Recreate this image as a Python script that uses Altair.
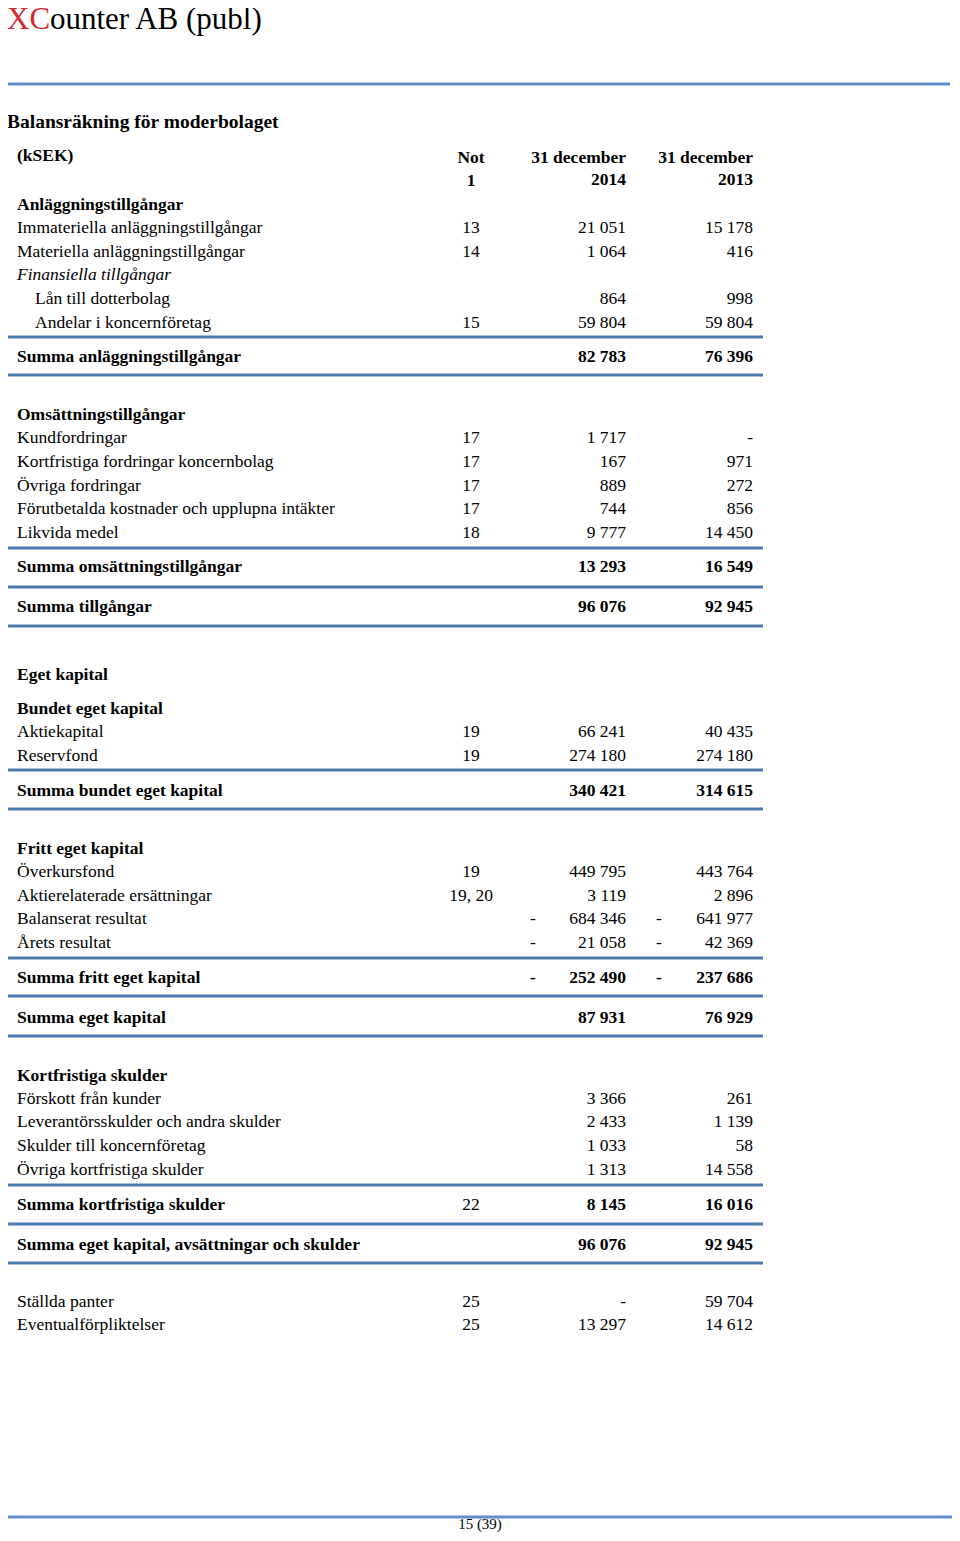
import altair as alt
import pandas as pd

# ---------------- data ----------------
COMPANY_RED = "XC"
COMPANY_REST = "ounter AB (publ)"
SHEET_TITLE = "Balansräkning för moderbolaget"
UNIT_LABEL = "(kSEK)"
COL_NOTE = ["Not", "1"]
COL_2014 = ["31 december", "2014"]
COL_2013 = ["31 december", "2013"]
PAGE_LABEL = "15 (39)"

LABELS = [
    "Anläggningstillgångar",
    "Immateriella anläggningstillgångar",
    "Materiella anläggningstillgångar",
    "Finansiella tillgångar",
    "Lån till dotterbolag",
    "Andelar i koncernföretag",
    "Summa anläggningstillgångar",
    "Omsättningstillgångar",
    "Kundfordringar",
    "Kortfristiga fordringar koncernbolag",
    "Övriga fordringar",
    "Förutbetalda kostnader och upplupna intäkter",
    "Likvida medel",
    "Summa omsättningstillgångar",
    "Summa tillgångar",
    "Eget kapital",
    "Bundet eget kapital",
    "Aktiekapital",
    "Reservfond",
    "Summa bundet eget kapital",
    "Fritt eget kapital",
    "Överkursfond",
    "Aktierelaterade ersättningar",
    "Balanserat resultat",
    "Årets resultat",
    "Summa fritt eget kapital",
    "Summa eget kapital",
    "Kortfristiga skulder",
    "Förskott från kunder",
    "Leverantörsskulder och andra skulder",
    "Skulder till koncernföretag",
    "Övriga kortfristiga skulder",
    "Summa kortfristiga skulder",
    "Summa eget kapital, avsättningar och skulder",
    "Ställda panter",
    "Eventualförpliktelser",
]
NOTES = ["", "13", "14", "", "", "15", "", "", "17", "17", "17", "17", "18", "", "",
         "", "", "19", "19", "", "", "19", "19, 20", "", "", "", "", "", "", "", "", "",
         "22", "", "25", "25"]
V2014 = [None, 21051, 1064, None, 864, 59804, 82783, None, 1717, 167, 889, 744, 9777,
         13293, 96076, None, None, 66241, 274180, 340421, None, 449795, 3119, -684346,
         -21058, -252490, 87931, None, 3366, 2433, 1033, 1313, 8145, 96076, None, 13297]
V2013 = [None, 15178, 416, None, 998, 59804, 76396, None, None, 971, 272, 856, 14450,
         16549, 92945, None, None, 40435, 274180, 314615, None, 443764, 2896, -641977,
         -42369, -237686, 76929, None, 261, 1139, 58, 14558, 16016, 92945, 59704, 14612]
KINDS = ["head", "item", "item", "ital", "indent", "indent", "sum", "head", "item", "item",
         "item", "item", "item", "sum", "sum", "head", "head", "item", "item", "sum", "head",
         "item", "item", "item", "item", "sum", "sum", "head", "item", "item", "item", "item",
         "sum", "sum", "item", "item"]

# ---------------- layout (page pixels) ----------------
ROW_Y = [204, 227, 251, 274, 298, 322, 356, 414, 437, 461, 485, 508, 532, 566, 606,
         674, 708, 731, 755, 790, 848, 871, 895, 918, 942, 977, 1017, 1075, 1098, 1121,
         1145, 1169, 1204, 1244, 1301, 1324]
RULE_Y = [337, 375, 548, 587, 626, 770, 809, 958, 996, 1036, 1185, 1224, 1263]
W, H = 944, 1525
FONT = "Liberation Serif"
RED = "#d7262e"
BLUE_TOP = "#5e8fca"
BLUE_TAB = "#4d7aad"
X_LABEL, X_INDENT, X_TITLE = 17, 35, 7
X_NOTE, X_C14, X_C13 = 471, 626, 753
X_M14, X_M13 = 533, 659
BASE = 6  # baseline offset from visual row centre
SIZE = 17.5

xs = alt.Scale(domain=[8, 8 + W], nice=False, zero=False)
ys = alt.Scale(domain=[8, 8 + H], nice=False, zero=False, reverse=True)


def fmt(v):
    return f"{abs(v):,}".replace(",", " ")


texts = []


def add(x, y, t, align="left", weight="normal", style="normal", size=SIZE, color="black"):
    texts.append(dict(x=x, y=y, text=t, align=align, weight=weight, style=style,
                      size=size, color=color))


# page heading
add(X_TITLE, 29, COMPANY_RED, size=31, color=RED)
add(X_TITLE + 43, 29, COMPANY_REST, size=31)
add(X_TITLE, 128, SHEET_TITLE, weight="bold", size=19.5)
add(X_LABEL, 161, UNIT_LABEL, weight="bold")
add(X_NOTE, 163, COL_NOTE[0], align="center", weight="bold")
add(X_NOTE, 186, COL_NOTE[1], align="center", weight="bold")
add(X_C14, 163, COL_2014[0], align="right", weight="bold")
add(X_C14, 185, COL_2014[1], align="right", weight="bold")
add(X_C13, 163, COL_2013[0], align="right", weight="bold")
add(X_C13, 185, COL_2013[1], align="right", weight="bold")
add(480, 1529, PAGE_LABEL, align="center", size=15)

for lab, note, a, b, kind, yc in zip(LABELS, NOTES, V2014, V2013, KINDS, ROW_Y):
    y = yc + BASE
    bold = "bold" if kind in ("head", "sum") else "normal"
    ital = "italic" if kind == "ital" else "normal"
    lx = X_INDENT if kind == "indent" else X_LABEL
    add(lx, y, lab, weight=bold, style=ital)
    if kind in ("head", "ital"):
        continue
    if note:
        add(X_NOTE, y, note, align="center")
    for v, xr, xm in ((a, X_C14, X_M14), (b, X_C13, X_M13)):
        if v is None:
            add(xr, y, "-", align="right", weight=bold)
        else:
            add(xr, y, fmt(v), align="right", weight=bold)
            if v < 0:
                add(xm, y, "-", align="center", weight=bold)

df = pd.DataFrame(texts)

layers = []
for (align, weight, style, size, color), g in df.groupby(["align", "weight", "style", "size", "color"]):
    layers.append(
        alt.Chart(g).mark_text(align=align, baseline="alphabetic", font=FONT, fontSize=float(size),
                               fontWeight=weight, fontStyle=style, color=color)
        .encode(x=alt.X("x:Q", scale=xs, axis=None), y=alt.Y("y:Q", scale=ys, axis=None),
                text="text:N")
    )

rules_tab = pd.DataFrame({"y": RULE_Y, "x1": 6, "x2": 763})
rules_page = pd.DataFrame({"y": [84, 1517], "x1": [6, 3], "x2": [950, 957]})

for rdf, col in ((rules_tab, BLUE_TAB), (rules_page, BLUE_TOP)):
    layers.append(
        alt.Chart(rdf).mark_rule(strokeWidth=3, color=col)
        .encode(x=alt.X("x1:Q", scale=xs, axis=None), x2="x2:Q",
                y=alt.Y("y:Q", scale=ys, axis=None))
    )

chart = (
    alt.layer(*layers)
    .properties(width=W, height=H, padding=0, autosize=alt.AutoSizeParams(type="none"),
                background="white")
    .configure_view(stroke=None)
)

chart.save("out.html", embed_options={"renderer": "svg", "actions": False})
